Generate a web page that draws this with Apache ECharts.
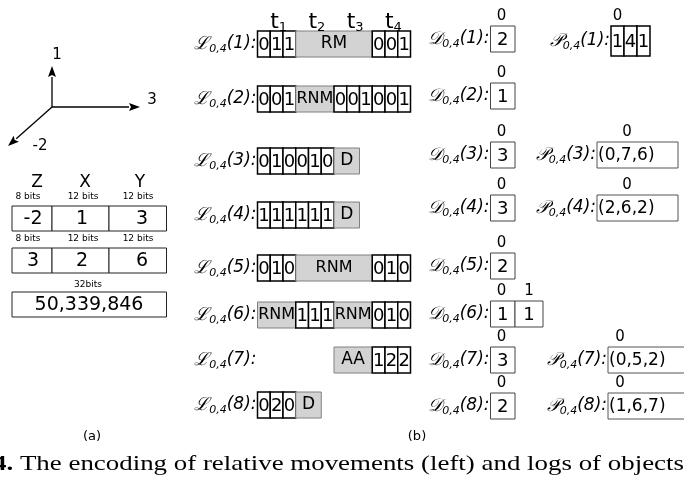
<!DOCTYPE html>
<html><head><meta charset="utf-8">
<script src="https://cdn.jsdelivr.net/npm/echarts@6/dist/echarts.min.js"></script>
<style>html,body{margin:0;padding:0;background:#fff}#c{width:684px;height:493px}</style>
</head><body><div id="c"></div>
<script>
// ---------------- data (content only) ----------------
const timeLabels = ['1', '2', '3', '4'];
const vectorLabels = ['1', '3', '-2'];
const encHeaders = ['Z', 'X', 'Y'];
const encBits = ['8 bits', '12 bits', '12 bits'];
const encRow1 = ['-2', '1', '3'];
const encRow2 = ['3', '2', '6'];
const encTotalBits = '32bits';
const encTotal = '50,339,846';
// digit = a white cell, [text, span] = a grey block
const logRows = [
  ['0', '1', '1', ['RM', 6], '0', '0', '1'],
  ['0', '0', '1', ['RNM', 3], '0', '0', '1', '0', '0', '1'],
  ['0', '1', '0', '0', '1', '0', ['D', 2]],
  ['1', '1', '1', '1', '1', '1', ['D', 2]],
  ['0', '1', '0', ['RNM', 6], '0', '1', '0'],
  [['RNM', 3], '1', '1', '1', ['RNM', 3], '0', '1', '0'],
  [['AA', 3], '1', '2', '2'],
  ['0', '2', '0', ['D', 2]]
];
const dValues = [['2'], ['1'], ['3'], ['3'], ['2'], ['1', '1'], ['3'], ['2']];
const pRowIds = [1, 3, 4, 7, 8];
const pValues = [['1', '4', '1'], ['(0,7,6)'], ['(2,6,2)'], ['(0,5,2)'], ['(1,6,7)']];
const panelLabels = ['(a)', '(b)'];
const captionBold = '4.';
const captionText = ' The encoding of relative movements (left) and logs of objects';

// ---------------- layout ----------------
const X0 = 257.5, U = 12.75, LH = 26;
const lTop = [31, 86, 148, 202, 255, 302, 347, 392];
const lStartCol = [0, 0, 0, 0, 0, 0, 6, 0];
const dLeft = 490.5, dWidths = [24.5, 28];
const dTop = [26, 83, 142, 195, 253, 301, 347, 393], DH = 26;
const pLeft = [611, 597, 597, 608, 608], pW = [39, 81, 81, 77, 77];
const pTop = [26, 142, 195, 347, 393], pH = [30, 26, 26, 26, 26];
const pIdxX = [617.5, 627, 627, 620, 620];
const encLeft = 12, encCols = [12, 52, 109, 166.5];
const origin = [52, 107], arrowEnds = [[52, 66], [140, 107], [8, 146]];
const vecLabelPos = [[57, 55], [152, 100], [40, 146]];

const FAM = 'DejaVu Sans';
const rects = [], texts = [];
function T(o) { texts.push(o); }
function R(x, y, w, h, fill, stroke, lw) { rects.push({x, y, w, h, fill, stroke, lw}); }

const richLab = {
  s: {fontFamily: 'DejaVu Serif', fontStyle: 'italic', fontSize: 18, lineHeight: 22},
  b: {fontFamily: FAM, fontStyle: 'italic', fontSize: 11, lineHeight: 9, verticalAlign: 'bottom'},
  n: {fontFamily: FAM, fontStyle: 'italic', fontSize: 17, lineHeight: 22}
};
function lab(letter, n) { return '{s|' + letter + '}{b|0,4}{n|(' + n + '):}'; }

// time labels
timeLabels.forEach((t, k) => {
  T({x: X0 + (1.5 + 3 * k) * U + 2, y: 22, text: '{t|t}{u|' + t + '}', rich: {
    t: {fontFamily: FAM, fontSize: 22, lineHeight: 24},
    u: {fontFamily: FAM, fontSize: 13, lineHeight: 10, verticalAlign: 'bottom'}}});
});

// log rows
logRows.forEach((row, i) => {
  let col = lStartCol[i];
  const y = lTop[i];
  row.forEach(tok => {
    const x = X0 + col * U;
    if (typeof tok === 'string') {
      R(x, y, U, LH, '#fff', '#000', 1.5);
      T({x: x + U / 2, y: y + LH / 2 + 1, text: tok, size: 18});
      col += 1;
    } else {
      const w = tok[1] * U;
      R(x, y, w, LH, '#d3d3d3', '#808080', 1);
      T({x: x + w / 2, y: y + LH / 2, text: tok[0], size: tok[0] === 'RNM' ? 16 : 17});
      col += tok[1];
    }
  });
  T({x: X0 - 1, y: y + LH / 2, text: lab('ℒ', i + 1), rich: richLab, align: 'right'});
});

// D rows
dValues.forEach((vals, i) => {
  let x = dLeft;
  const y = dTop[i];
  vals.forEach((v, k) => {
    const w = dWidths[k];
    R(x, y, w, DH, '#fff', '#444', 1);
    T({x: x + w / 2, y: y + DH / 2 + 1, text: v, size: 18});
    T({x: x + (k === 0 ? 11 : w / 2), y: y - 10, text: String(k), size: 15});
    x += w;
  });
  T({x: dLeft - 1, y: y + DH / 2, text: lab('𝒟', i + 1), rich: richLab, align: 'right'});
});

// P rows
pValues.forEach((vals, j) => {
  const x = pLeft[j], y = pTop[j], h = pH[j];
  if (vals.length > 1) {
    const w = pW[j] / vals.length;
    vals.forEach((v, k) => {
      R(x + k * w, y, w, h, '#fff', '#000', 1.5);
      T({x: x + k * w + w / 2, y: y + h / 2 + 1, text: v, size: 18});
    });
  } else {
    R(x, y, pW[j], h, '#fff', '#555', 1);
    T({x: x + 1, y: y + h / 2 + 1, text: vals[0], size: 17, align: 'left'});
  }
  T({x: pIdxX[j], y: y - 10, text: '0', size: 15});
  T({x: x - 1, y: y + h / 2, text: lab('𝒫', pRowIds[j]), rich: richLab, align: 'right'});
});

// encoding table
const encCenters = [0, 1, 2].map(k => (encCols[k] + encCols[k + 1]) / 2);
encHeaders.forEach((h, k) => T({x: [37, 85, 140][k], y: 183, text: h, size: 17}));
[197, 239].forEach(yy => encBits.forEach((b, k) => T({x: [28, 83, 138][k], y: yy, text: b, size: 9})));
[[encRow1, 206], [encRow2, 248]].forEach(([row, yy]) => {
  row.forEach((v, k) => {
    R(encCols[k], yy, encCols[k + 1] - encCols[k], 25, '#fff', '#222', 1);
    T({x: [33, 82, 142][k], y: yy + 13, text: v, size: 19});
  });
});
T({x: 88, y: 285, text: encTotalBits, size: 9});
R(encLeft, 292, 154.5, 25, '#fff', '#222', 1);
T({x: 89, y: 305, text: encTotal, size: 19});

// vector labels
vectorLabels.forEach((v, k) => T({x: vecLabelPos[k][0], y: vecLabelPos[k][1], text: v, size: 15}));

// panel labels
T({x: 92, y: 437, text: panelLabels[0], size: 13});
T({x: 417, y: 437, text: panelLabels[1], size: 13});

// caption with horizontal fit
const cv = document.createElement('canvas').getContext('2d');
cv.font = 'bold 22px "Liberation Serif"';
const wB = cv.measureText(captionBold).width;
cv.font = '22px "Liberation Serif"';
const wT = cv.measureText(captionText).width;
const capScale = 691 / (wB + wT);
T({x: -7, y: 464, text: '{b|' + captionBold + '}{r|' + captionText + '}', align: 'left', sx: capScale, rich: {
  b: {fontFamily: 'Liberation Serif', fontWeight: 'bold', fontSize: 22},
  r: {fontFamily: 'Liberation Serif', fontSize: 22}}});

const arrows = arrowEnds.map(e => [origin[0], origin[1], e[0], e[1]]);

const chart = echarts.init(document.getElementById('c'), null, {renderer: 'canvas'});
chart.setOption({
  animation: false,
  backgroundColor: '#fff',
  grid: {left: 0, right: 0, top: 0, bottom: 0},
  xAxis: {type: 'value', min: 0, max: 684, show: false},
  yAxis: {type: 'value', min: 0, max: 493, inverse: true, show: false},
  series: [
    {
      type: 'custom', coordinateSystem: 'cartesian2d', silent: true, clip: false, z: 2,
      data: rects.map(r => [r.x, r.y, r.x + r.w, r.y + r.h]),
      renderItem(params, api) {
        const r = rects[params.dataIndex];
        const a = api.coord([api.value(0), api.value(1)]);
        const b = api.coord([api.value(2), api.value(3)]);
        return {type: 'rect', shape: {x: a[0], y: a[1], width: b[0] - a[0], height: b[1] - a[1]},
          style: {fill: r.fill, stroke: r.stroke, lineWidth: r.lw}};
      }
    },
    {
      type: 'custom', coordinateSystem: 'cartesian2d', silent: true, clip: false, z: 3,
      data: arrows,
      renderItem(params, api) {
        const a = api.coord([api.value(0), api.value(1)]);
        const b = api.coord([api.value(2), api.value(3)]);
        const dx = b[0] - a[0], dy = b[1] - a[1], L = Math.hypot(dx, dy);
        const ux = dx / L, uy = dy / L, hl = 11, hw = 4;
        const bx = b[0] - ux * hl, by = b[1] - uy * hl;
        return {type: 'group', children: [
          {type: 'line', shape: {x1: a[0], y1: a[1], x2: bx, y2: by}, style: {stroke: '#000', lineWidth: 1.3}},
          {type: 'polygon', shape: {points: [[b[0], b[1]], [bx - uy * hw, by + ux * hw], [bx + ux * 2, by + uy * 2], [bx + uy * hw, by - ux * hw]]},
            style: {fill: '#000'}}
        ]};
      }
    },
    {
      type: 'custom', coordinateSystem: 'cartesian2d', silent: true, clip: false, z: 4,
      data: texts.map(t => [t.x, t.y]),
      renderItem(params, api) {
        const t = texts[params.dataIndex];
        const p = api.coord([api.value(0), api.value(1)]);
        return {type: 'text', x: p[0], y: p[1], scaleX: t.sx || 1,
          style: {text: t.text, rich: t.rich, fontSize: t.size || 16, fontFamily: FAM,
            fill: '#000', align: t.align || 'center', verticalAlign: 'middle'}};
      }
    }
  ]
});
</script></body></html>
